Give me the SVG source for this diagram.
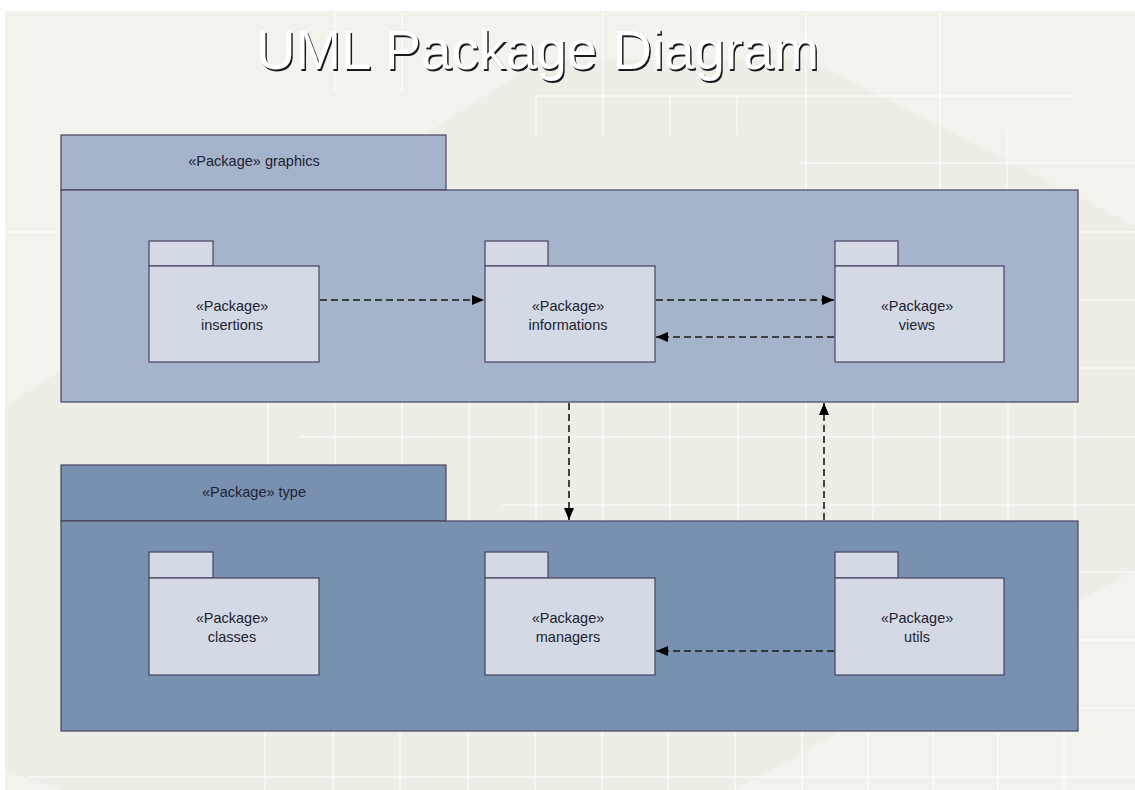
<svg xmlns="http://www.w3.org/2000/svg" width="1135" height="790" viewBox="0 0 1135 790">
  <defs>
    <style>
      .grid { stroke: #ffffff; stroke-width: 1.6; opacity: 0.7; fill: none; }
      .outer1 { fill: #a5b4cb; stroke: #4b4260; stroke-width: 1.2; }
      .outer2 { fill: #7891b0; stroke: #4b4260; stroke-width: 1.2; }
      .inner { fill: #d3dae5; stroke: #4b4260; stroke-width: 1.2; }
      .lbl { font-family: "Liberation Sans", Arial, sans-serif; font-size: 14.5px; fill: #222230; text-anchor: middle; }
      .dep { stroke: #1a1a1a; stroke-width: 1.6; stroke-dasharray: 7 4; fill: none; }
      .title { font-family: "Liberation Sans", Arial, sans-serif; font-size: 56px; }
    </style>
    <marker id="arrow" viewBox="0 0 12 10" refX="12" refY="5" markerWidth="12" markerHeight="10" markerUnits="userSpaceOnUse" orient="auto">
      <path d="M0,0 L12,5 L0,10 Z" fill="#000"/>
    </marker>
  </defs>

  <!-- backdrop -->
  <rect x="0" y="0" width="1135" height="790" fill="#ffffff"/>
  <rect x="5" y="11" width="1130" height="779" fill="#f2f3ec"/>
  <polygon points="5,407 540,60 810,60 1135,226 1135,570 735,790 60,790 5,770" fill="#edefe6"/>

  <!-- faint grid -->
  <g id="grid" class="grid">
    <!-- top -->
    <line x1="335" y1="11" x2="335" y2="92"/>
    <line x1="402" y1="11" x2="402" y2="92"/>
    <line x1="603" y1="11" x2="603" y2="135"/>
    <line x1="806" y1="11" x2="806" y2="190"/>
    <line x1="940" y1="11" x2="940" y2="190"/>
    <line x1="1007" y1="130" x2="1007" y2="190"/>
    <line x1="536" y1="96" x2="536" y2="135"/>
    <line x1="670" y1="96" x2="670" y2="135"/>
    <line x1="737" y1="96" x2="737" y2="135"/>
    <line x1="535" y1="96" x2="1075" y2="96"/>
    <line x1="800" y1="163" x2="1135" y2="163"/>
    <line x1="5" y1="232" x2="60" y2="232"/>
    <!-- right margin -->
    <line x1="1078" y1="232" x2="1135" y2="232"/>
    <line x1="1078" y1="300" x2="1135" y2="300"/>
    <line x1="1078" y1="368" x2="1135" y2="368"/>
    <line x1="1078" y1="572" x2="1135" y2="572"/>
    <line x1="1078" y1="640" x2="1135" y2="640"/>
    <line x1="1078" y1="708" x2="1135" y2="708"/>
    <!-- between the packages -->
    <line x1="268" y1="402" x2="268" y2="465"/>
    <line x1="335" y1="402" x2="335" y2="465"/>
    <line x1="402" y1="402" x2="402" y2="465"/>
    <line x1="469" y1="402" x2="469" y2="521"/>
    <line x1="536" y1="402" x2="536" y2="521"/>
    <line x1="603" y1="402" x2="603" y2="521"/>
    <line x1="670" y1="402" x2="670" y2="521"/>
    <line x1="738" y1="402" x2="738" y2="521"/>
    <line x1="806" y1="402" x2="806" y2="521"/>
    <line x1="873" y1="402" x2="873" y2="521"/>
    <line x1="940" y1="402" x2="940" y2="521"/>
    <line x1="1008" y1="402" x2="1008" y2="521"/>
    <line x1="1075" y1="402" x2="1075" y2="521"/>
    <line x1="300" y1="437" x2="1135" y2="437"/>
    <line x1="502" y1="505" x2="1135" y2="505"/>
    <!-- bottom -->
    <line x1="265" y1="731" x2="265" y2="790"/>
    <line x1="333" y1="731" x2="333" y2="790"/>
    <line x1="400" y1="731" x2="400" y2="790"/>
    <line x1="468" y1="731" x2="468" y2="790"/>
    <line x1="535" y1="731" x2="535" y2="790"/>
    <line x1="602" y1="731" x2="602" y2="790"/>
    <line x1="668" y1="731" x2="668" y2="790"/>
    <line x1="735" y1="731" x2="735" y2="790"/>
    <line x1="802" y1="731" x2="802" y2="790"/>
    <line x1="868" y1="731" x2="868" y2="790"/>
    <line x1="933" y1="731" x2="933" y2="790"/>
    <line x1="998" y1="731" x2="998" y2="790"/>
    <line x1="1064" y1="731" x2="1064" y2="790"/>
    <line x1="29" y1="777" x2="1135" y2="777"/>
  </g>

  <!-- title -->
  <g id="title" class="title">
    <text x="257.5" y="70.5" fill="#1a1a1a" textLength="563" lengthAdjust="spacingAndGlyphs">UML Package Diagram</text>
    <text x="256" y="69" fill="#ffffff" textLength="563" lengthAdjust="spacingAndGlyphs">UML Package Diagram</text>
  </g>

  <!-- package: graphics -->
  <g id="pkg-graphics">
    <rect class="outer1" x="61" y="135" width="385" height="55"/>
    <rect class="outer1" x="61" y="190" width="1017" height="212"/>
    <text class="lbl" x="254" y="166">«Package» graphics</text>
  </g>

  <!-- package: type -->
  <g id="pkg-type">
    <rect class="outer2" x="61" y="465" width="385" height="56"/>
    <rect class="outer2" x="61" y="521" width="1017" height="210"/>
    <text class="lbl" x="254" y="497">«Package» type</text>
  </g>

  <g id="pkg-insertions">
    <rect class="inner" x="149" y="241" width="64" height="25"/>
    <rect class="inner" x="149" y="266" width="170" height="96"/>
    <text class="lbl" x="232" y="311">«Package»</text>
    <text class="lbl" x="232" y="330">insertions</text>
  </g>

  <g id="pkg-informations">
    <rect class="inner" x="485" y="241" width="63" height="25"/>
    <rect class="inner" x="485" y="266" width="170" height="96"/>
    <text class="lbl" x="568" y="311">«Package»</text>
    <text class="lbl" x="568" y="330">informations</text>
  </g>

  <g id="pkg-views">
    <rect class="inner" x="835" y="241" width="63" height="25"/>
    <rect class="inner" x="835" y="266" width="169" height="96"/>
    <text class="lbl" x="917" y="311">«Package»</text>
    <text class="lbl" x="917" y="330">views</text>
  </g>

  <g id="pkg-classes">
    <rect class="inner" x="149" y="552" width="64" height="26"/>
    <rect class="inner" x="149" y="578" width="170" height="97"/>
    <text class="lbl" x="232" y="623">«Package»</text>
    <text class="lbl" x="232" y="642">classes</text>
  </g>

  <g id="pkg-managers">
    <rect class="inner" x="485" y="552" width="63" height="26"/>
    <rect class="inner" x="485" y="578" width="170" height="97"/>
    <text class="lbl" x="568" y="623">«Package»</text>
    <text class="lbl" x="568" y="642">managers</text>
  </g>

  <g id="pkg-utils">
    <rect class="inner" x="835" y="552" width="63" height="26"/>
    <rect class="inner" x="835" y="578" width="169" height="97"/>
    <text class="lbl" x="917" y="623">«Package»</text>
    <text class="lbl" x="917" y="642">utils</text>
  </g>

  <!-- dependencies -->
  <g id="connectors">
    <line class="dep" x1="320" y1="300" x2="484" y2="300" marker-end="url(#arrow)"/>
    <line class="dep" x1="656" y1="300" x2="834" y2="300" marker-end="url(#arrow)"/>
    <line class="dep" x1="834" y1="337" x2="656" y2="337" marker-end="url(#arrow)"/>
    <line class="dep" x1="569" y1="403" x2="569" y2="520" marker-end="url(#arrow)"/>
    <line class="dep" x1="824" y1="520" x2="824" y2="403" marker-end="url(#arrow)"/>
    <line class="dep" x1="834" y1="651" x2="656" y2="651" marker-end="url(#arrow)"/>
  </g>
</svg>
